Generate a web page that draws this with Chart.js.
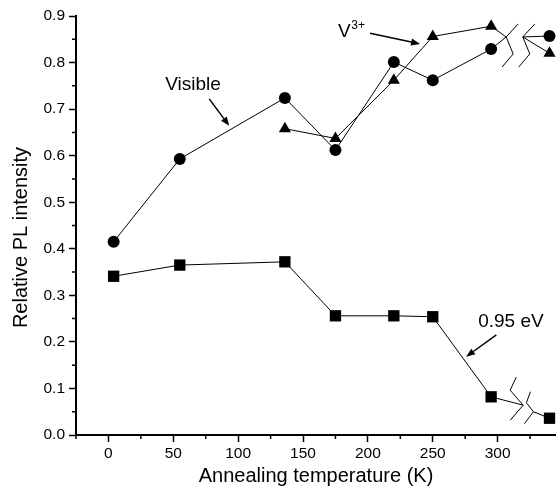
<!DOCTYPE html>
<html>
<head>
<meta charset="utf-8">
<script src="https://cdn.jsdelivr.net/npm/chart.js@4.4.1/dist/chart.umd.min.js"></script>
<style>
  html, body { margin: 0; padding: 0; background: #fff; }
  #wrap { width: 556px; height: 497px; }
</style>
</head>
<body>
<div id="wrap"><canvas id="pl"></canvas></div>
<script>
'use strict';

// annealing temperatures (K)
var tempAll = [4, 55, 136, 175, 220, 250, 295, 340];
var tempV3 = [136, 175, 220, 250, 295, 340];

// relative PL intensity
var visible = [0.415, 0.593, 0.724, 0.612, 0.801, 0.762, 0.829, 0.857];
var v3plus = [0.658, 0.637, 0.762, 0.856, 0.878, 0.820];
var ev095 = [0.341, 0.365, 0.372, 0.256, 0.256, 0.254, 0.082, 0.036];

var xMajor = [0, 50, 100, 150, 200, 250, 300];
var xMinor = [-25, 25, 75, 125, 175, 225, 275, 325];
var yMajor = [0, 0.1, 0.2, 0.3, 0.4, 0.5, 0.6, 0.7, 0.8, 0.9];
var yMinor = [0.05, 0.15, 0.25, 0.35, 0.45, 0.55, 0.65, 0.75, 0.85];

// axis break junctions (data coords)
var breakUpper = [[306.6, 0.855], [319.4, 0.855]];
var breakLower = [[319.7, 0.064], [327.6, 0.050]];

// annotation labels and arrows (data coords)
var labelVisible = { x: 65.2, y: 0.752, from: [77.7, 0.722], to: [93.1, 0.664] };
var labelV3 = { x: 177, y: 0.855, from: [201.7, 0.863], to: [240.2, 0.840] };
var labelEv = { x: 285, y: 0.232, from: [299, 0.215], to: [275.7, 0.168] };

var yTitle = 'Relative PL intensity';
var FONT = "'Liberation Sans', Arial, sans-serif";

function pts(xs, ys) {
    var out = [];
    for (var i = 0; i < ys.length; i++) out.push({ x: xs[i], y: ys[i] });
    return out;
}

// hide the segment that crosses the axis break
function hideLast(n) {
    return {
        borderColor: function (c) { return c.p1DataIndex === n - 1 ? 'rgba(0,0,0,0)' : '#000'; }
    };
}

function arrow(ctx, x1, y1, x2, y2) {
    var a = Math.atan2(y2 - y1, x2 - x1);
    var L = 9, W = 3.5;
    ctx.beginPath();
    ctx.moveTo(x1, y1);
    ctx.lineTo(x2 - L * Math.cos(a), y2 - L * Math.sin(a));
    ctx.stroke();
    ctx.beginPath();
    ctx.moveTo(x2, y2);
    ctx.lineTo(x2 - L * Math.cos(a) + W * Math.sin(a), y2 - L * Math.sin(a) - W * Math.cos(a));
    ctx.lineTo(x2 - L * Math.cos(a) - W * Math.sin(a), y2 - L * Math.sin(a) + W * Math.cos(a));
    ctx.closePath();
    ctx.fill();
}

function poly(ctx, cx, cy, shape) {
    ctx.beginPath();
    for (var i = 0; i < shape.length; i++) {
        if (i === 0) ctx.moveTo(cx + shape[i][0], cy + shape[i][1]);
        else ctx.lineTo(cx + shape[i][0], cy + shape[i][1]);
    }
    ctx.stroke();
}

var extras = {
    id: 'extras',
    afterDraw: function (chart) {
        var ctx = chart.ctx;
        var xs = chart.scales.x, ys = chart.scales.y;
        var X = function (v) { return xs.getPixelForValue(v); };
        var Y = function (v) { return ys.getPixelForValue(v); };
        var area = chart.chartArea;
        ctx.save();
        ctx.strokeStyle = '#000';
        ctx.fillStyle = '#000';

        // minor ticks
        ctx.lineWidth = 1.5;
        ctx.beginPath();
        xMinor.forEach(function (v) {
            ctx.moveTo(X(v), area.bottom);
            ctx.lineTo(X(v), area.bottom + 4);
        });
        yMinor.forEach(function (v) {
            ctx.moveTo(area.left, Y(v));
            ctx.lineTo(area.left - 4, Y(v));
        });
        ctx.stroke();

        // lines into / out of the break
        ctx.lineWidth = 1;
        var last = tempAll.length - 1, lastV = tempV3.length - 1;
        var segs = [
            [tempAll[last - 1], visible[last - 1], breakUpper[0]],
            [tempV3[lastV - 1], v3plus[lastV - 1], breakUpper[0]],
            [tempAll[last], visible[last], breakUpper[1]],
            [tempV3[lastV], v3plus[lastV], breakUpper[1]],
            [tempAll[last - 1], ev095[last - 1], breakLower[0]],
            [tempAll[last], ev095[last], breakLower[1]]
        ];
        segs.forEach(function (s) {
            ctx.beginPath();
            ctx.moveTo(X(s[0]), Y(s[1]));
            ctx.lineTo(X(s[2][0]), Y(s[2][1]));
            ctx.stroke();
        });

        // break marks
        var upShape = [[12, -13], [0, 0], [7, 17], [-4, 30]];
        var lowShape1 = [[-7, -28], [-13, -15], [0, 0], [-13, 15]];
        var lowShape2 = [[-3, -20], [-7, -9], [0, 0], [-9, 12]];
        breakUpper.forEach(function (b) { poly(ctx, X(b[0]), Y(b[1]), upShape); });
        poly(ctx, X(breakLower[0][0]), Y(breakLower[0][1]), lowShape1);
        poly(ctx, X(breakLower[1][0]), Y(breakLower[1][1]), lowShape2);

        // annotations
        ctx.font = '19px ' + FONT;
        ctx.textBaseline = 'middle';
        ctx.textAlign = 'center';
        ctx.fillText('Visible', X(labelVisible.x), Y(labelVisible.y));
        ctx.textAlign = 'left';
        ctx.textBaseline = 'alphabetic';
        ctx.fillText('V', X(labelV3.x), Y(labelV3.y));
        var vw = ctx.measureText('V').width;
        ctx.font = '12px ' + FONT;
        ctx.fillText('3+', X(labelV3.x) + vw + 0.5, Y(labelV3.y) - 8);
        ctx.font = '19px ' + FONT;
        ctx.fillText('0.95 eV', X(labelEv.x), Y(labelEv.y));

        ctx.lineWidth = 1.5;
        [labelVisible, labelV3, labelEv].forEach(function (l) {
            arrow(ctx, X(l.from[0]), Y(l.from[1]), X(l.to[0]), Y(l.to[1]));
        });

        // y axis title, sitting a little below the axis centre as in the source
        ctx.save();
        ctx.translate(21, (area.top + area.bottom) / 2 + 12);
        ctx.rotate(-Math.PI / 2);
        ctx.font = '20px ' + FONT;
        ctx.textAlign = 'center';
        ctx.textBaseline = 'middle';
        ctx.fillText(yTitle, 0, 0);
        ctx.restore();

        ctx.restore();
    }
};

var common = {
    showLine: true,
    borderColor: '#000',
    borderWidth: 1,
    backgroundColor: '#000',
    pointBackgroundColor: '#000',
    pointBorderColor: '#000',
    pointBorderWidth: 0,
    tension: 0
};

var chart_pl = new Chart(document.getElementById('pl'), {
    type: 'scatter',
    data: {
        datasets: [
            Object.assign({}, common, {
                label: 'Visible',
                data: pts(tempAll, visible),
                pointStyle: 'circle',
                pointRadius: 6,
                segment: hideLast(tempAll.length)
            }),
            Object.assign({}, common, {
                label: 'V3+',
                data: pts(tempV3, v3plus),
                pointStyle: 'triangle',
                pointRadius: 7,
                segment: hideLast(tempV3.length)
            }),
            Object.assign({}, common, {
                label: '0.95 eV',
                data: pts(tempAll, ev095),
                pointStyle: 'rect',
                pointRadius: 8,
                segment: hideLast(tempAll.length)
            })
        ]
    },
    options: {
        responsive: true,
        maintainAspectRatio: false,
        animation: false,
        layout: { autoPadding: false, padding: { top: 16, right: 0, bottom: 0, left: 0 } },
        plugins: {
            legend: { display: false },
            tooltip: { enabled: false }
        },
        scales: {
            x: {
                type: 'linear',
                min: -25,
                max: 345,
                afterBuildTicks: function (s) { s.ticks = xMajor.map(function (v) { return { value: v }; }); },
                afterFit: function (s) { s.height = 62; s.paddingLeft = 0; s.paddingRight = 0; },
                border: { display: true, color: '#000', width: 2 },
                grid: { display: true, drawOnChartArea: false, tickLength: 7, tickWidth: 1.5, tickColor: '#000' },
                ticks: { color: '#000', padding: 2, maxRotation: 0, font: { family: FONT, size: 15.5 } },
                title: {
                    display: true,
                    text: 'Annealing temperature (K)',
                    color: '#000',
                    font: { family: FONT, size: 20 },
                    padding: { top: 0, bottom: 9 }
                }
            },
            y: {
                type: 'linear',
                min: 0,
                max: 0.9,
                afterBuildTicks: function (s) { s.ticks = yMajor.map(function (v) { return { value: v }; }); },
                afterFit: function (s) { s.width = 76; s.paddingTop = 0; s.paddingBottom = 0; },
                border: { display: true, color: '#000', width: 2 },
                grid: { display: true, drawOnChartArea: false, tickLength: 7, tickWidth: 1.5, tickColor: '#000' },
                ticks: {
                    color: '#000',
                    padding: 4,
                    font: { family: FONT, size: 15.5 },
                    callback: function (v) { return Number(v).toFixed(1); }
                },
                title: { display: false }
            }
        }
    },
    plugins: [extras]
});
</script>
</body>
</html>
